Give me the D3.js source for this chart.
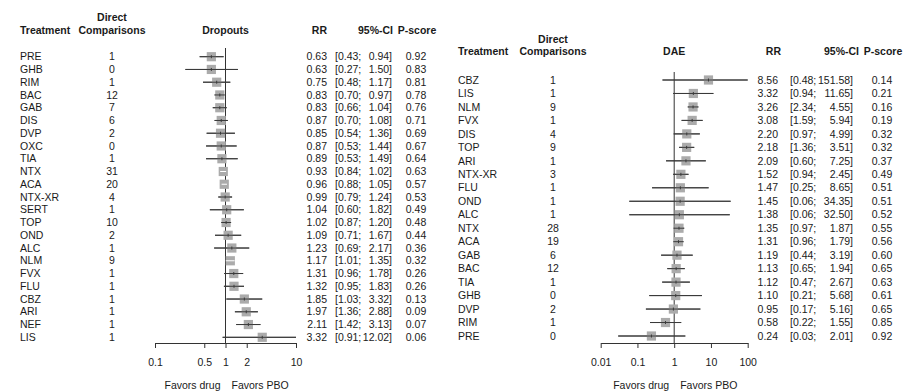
<!DOCTYPE html>
<html>
<head>
<meta charset="utf-8">
<script src="https://cdn.jsdelivr.net/npm/d3@7"></script>
<style>
  html, body { margin: 0; padding: 0; background: #fff; }
  svg { display: block; font-family: "Liberation Sans", Arial, sans-serif; }
  text { fill: #1a1a1a; }
</style>
</head>
<body>
<svg id="chart" width="905" height="392"></svg>
<script>
// Dropouts: network meta-analysis, risk ratio vs placebo
const dropTreat = ["PRE","GHB","RIM","BAC","GAB","DIS","DVP","OXC","TIA","NTX","ACA","NTX-XR","SERT","TOP","OND","ALC","NLM","FVX","FLU","CBZ","ARI","NEF","LIS"];
const dropComp  = [1,0,1,12,7,6,2,0,1,31,20,4,1,10,2,1,9,1,1,1,1,1,1];
const dropRR    = [0.63,0.63,0.75,0.83,0.83,0.87,0.85,0.87,0.89,0.93,0.96,0.99,1.04,1.02,1.09,1.23,1.17,1.31,1.32,1.85,1.97,2.11,3.32];
const dropLo    = [0.43,0.27,0.48,0.70,0.66,0.70,0.54,0.53,0.53,0.84,0.88,0.79,0.60,0.87,0.71,0.69,1.01,0.96,0.95,1.03,1.36,1.42,0.91];
const dropHi    = [0.94,1.50,1.17,0.97,1.04,1.08,1.36,1.44,1.49,1.02,1.05,1.24,1.82,1.20,1.67,2.17,1.35,1.78,1.83,3.32,2.88,3.13,12.02];
const dropP     = [0.92,0.83,0.81,0.78,0.76,0.71,0.69,0.67,0.64,0.63,0.57,0.53,0.49,0.48,0.44,0.36,0.32,0.26,0.26,0.13,0.09,0.07,0.06];
const dropTicks = [0.1,0.5,1,2,10];

// Discontinuation due to adverse events (DAE)
const daeTreat = ["CBZ","LIS","NLM","FVX","DIS","TOP","ARI","NTX-XR","FLU","OND","ALC","NTX","ACA","GAB","BAC","TIA","GHB","DVP","RIM","PRE"];
const daeComp  = [1,1,9,1,4,9,1,3,1,1,1,28,19,6,12,1,0,2,1,0];
const daeRR    = [8.56,3.32,3.26,3.08,2.20,2.18,2.09,1.52,1.47,1.45,1.38,1.35,1.31,1.19,1.13,1.12,1.10,0.95,0.58,0.24];
const daeLo    = [0.48,0.94,2.34,1.59,0.97,1.36,0.60,0.94,0.25,0.06,0.06,0.97,0.96,0.44,0.65,0.47,0.21,0.17,0.22,0.03];
const daeHi    = [151.58,11.65,4.55,5.94,4.99,3.51,7.25,2.45,8.65,34.35,32.50,1.87,1.79,3.19,1.94,2.67,5.68,5.16,1.55,2.01];
const daeP     = [0.14,0.21,0.16,0.19,0.32,0.32,0.37,0.49,0.51,0.51,0.52,0.55,0.56,0.60,0.65,0.63,0.61,0.65,0.85,0.92];
const daeTicks = [0.01,0.1,1,10,100];

const svg = d3.select("#chart");
const FS = 10.5;

function fmt2(v) { return v.toFixed(2); }

function drawPanel(cfg) {
  const g = svg.append("g");
  const n = cfg.treat.length;
  const rows = d3.range(n);
  const y = d3.scalePoint().domain(rows).range([cfg.rowTop, cfg.rowBottom]);
  const x = d3.scaleLog().domain(cfg.domain).range(cfg.xRange);
  const clampX = v => x(Math.max(cfg.domain[0], Math.min(cfg.domain[1], v)));

  // Column headers
  const hdr = g.append("g").attr("font-weight", "bold").attr("font-size", FS);
  hdr.append("text").attr("x", cfg.compX).attr("y", cfg.hdr1).attr("dy", "0.35em")
     .attr("text-anchor", "middle").text("Direct");
  hdr.append("text").attr("x", cfg.treatX).attr("y", cfg.hdr2).attr("dy", "0.35em").text("Treatment");
  hdr.append("text").attr("x", cfg.compX).attr("y", cfg.hdr2).attr("dy", "0.35em")
     .attr("text-anchor", "middle").text("Comparisons");
  hdr.append("text").attr("x", x(1)).attr("y", cfg.hdr2).attr("dy", "0.35em")
     .attr("text-anchor", "middle").text(cfg.title);
  hdr.append("text").attr("x", cfg.rrHdrX).attr("y", cfg.hdr2).attr("dy", "0.35em")
     .attr("text-anchor", "end").text("RR");
  hdr.append("text").attr("x", cfg.ciHdrX).attr("y", cfg.hdr2).attr("dy", "0.35em")
     .attr("text-anchor", "end").text("95%-CI");
  hdr.append("text").attr("x", cfg.pX + 1).attr("y", cfg.hdr2).attr("dy", "0.35em")
     .attr("text-anchor", "middle").text("P-score");

  // Table columns
  const body = g.append("g").attr("font-size", FS);
  const row = body.selectAll("g.row").data(rows).join("g").attr("class", "row")
    .attr("transform", i => `translate(0,${y(i)})`);
  row.append("text").attr("x", cfg.treatX).attr("dy", "0.35em").text(i => cfg.treat[i]);
  row.append("text").attr("x", cfg.compX).attr("dy", "0.35em").attr("text-anchor", "middle")
     .text(i => cfg.comp[i]);
  row.append("text").attr("x", cfg.rrX).attr("dy", "0.35em").attr("text-anchor", "end")
     .text(i => fmt2(cfg.rr[i]));
  row.append("text").attr("x", cfg.ciL).attr("dy", "0.35em")
     .text(i => "[" + fmt2(cfg.lo[i]) + ";");
  row.append("text").attr("x", cfg.ciR).attr("dy", "0.35em").attr("text-anchor", "end")
     .text(i => fmt2(cfg.hi[i]) + "]");
  row.append("text").attr("x", cfg.pX).attr("dy", "0.35em").attr("text-anchor", "middle")
     .text(i => fmt2(cfg.p[i]));

  // Reference line at RR = 1
  g.append("line").attr("x1", x(1)).attr("x2", x(1))
    .attr("y1", cfg.refTop).attr("y2", cfg.axisY)
    .attr("stroke", "#333").attr("stroke-width", 1);

  // Squares and confidence intervals
  const half = 4.6;
  const marks = g.append("g");
  rows.forEach(i => {
    const cy = y(i), cx = x(cfg.rr[i]);
    const x1 = clampX(cfg.lo[i]), x2 = clampX(cfg.hi[i]);
    marks.append("line").attr("x1", x1).attr("x2", x2).attr("y1", cy).attr("y2", cy)
      .attr("stroke", "#3a3a3a").attr("stroke-width", 1);
    marks.append("rect").attr("x", cx - half).attr("y", cy - half)
      .attr("width", 2 * half).attr("height", 2 * half)
      .attr("fill", "#ababab");
    const inside = x1 > cx - half && x2 < cx + half;
    if (inside) {
      marks.append("line").attr("x1", x1).attr("x2", x2).attr("y1", cy).attr("y2", cy)
        .attr("stroke", "#fff").attr("stroke-width", 1);
    } else {
      marks.append("line").attr("x1", x1).attr("x2", x2).attr("y1", cy).attr("y2", cy)
        .attr("stroke", "#3a3a3a").attr("stroke-width", 1);
      marks.append("line").attr("x1", cx).attr("x2", cx).attr("y1", cy - 1.5).attr("y2", cy + 1.5)
        .attr("stroke", "#3a3a3a").attr("stroke-width", 1);
    }
  });

  // Log axis
  const axis = d3.axisBottom(x).tickValues(cfg.ticks).tickSize(5).tickSizeOuter(0)
    .tickFormat(d => String(d));
  const ax = g.append("g").attr("transform", `translate(0,${cfg.axisY})`).call(axis);
  ax.select(".domain").attr("stroke", "#333");
  ax.selectAll(".tick line").attr("stroke", "#333");
  ax.selectAll(".tick text").attr("font-size", FS).attr("font-family", "Liberation Sans, Arial, sans-serif")
    .attr("fill", "#1a1a1a").attr("dy", "1.45em");

  // Direction labels
  g.append("text").attr("x", x(1) - 5).attr("y", cfg.favY).attr("font-size", FS)
    .attr("text-anchor", "end").text("Favors drug");
  g.append("text").attr("x", x(1) + 6).attr("y", cfg.favY).attr("font-size", FS)
    .text("Favors PBO");
}

drawPanel({
  title: "Dropouts",
  treat: dropTreat, comp: dropComp, rr: dropRR, lo: dropLo, hi: dropHi, p: dropP,
  ticks: dropTicks, domain: [0.1, 10], xRange: [155, 296],
  rowTop: 56.7, rowBottom: 337.3, hdr1: 17.3, hdr2: 30.7,
  treatX: 20, compX: 112, rrX: 327, rrHdrX: 327, ciL: 335, ciR: 392, ciHdrX: 393, pX: 416,
  refTop: 48, axisY: 343, favY: 388.5
});

drawPanel({
  title: "DAE",
  treat: daeTreat, comp: daeComp, rr: daeRR, lo: daeLo, hi: daeHi, p: daeP,
  ticks: daeTicks, domain: [0.01, 100], xRange: [600.7, 747.7],
  rowTop: 80, rowBottom: 336, hdr1: 39, hdr2: 51.7,
  treatX: 458, compX: 553, rrX: 778, rrHdrX: 781, ciL: 790, ciR: 853, ciHdrX: 859, pX: 882,
  refTop: 72, axisY: 343, favY: 388.5
});
</script>
</body>
</html>
